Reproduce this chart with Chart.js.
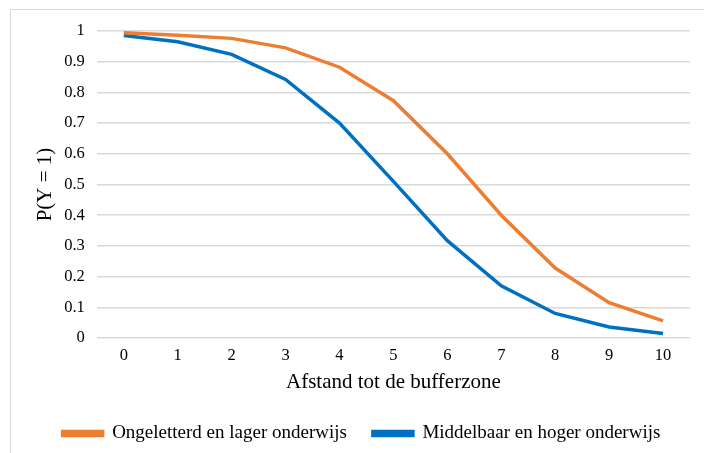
<!DOCTYPE html>
<html>
<head>
<meta charset="utf-8">
<script src="https://cdn.jsdelivr.net/npm/chart.js@4"></script>
<style>
  html, body { margin: 0; padding: 0; background: #fff; overflow: hidden; }
  #wrap { position: relative; width: 704px; height: 453px; }
  #frame { position: absolute; left: 10px; top: 9px; width: 720px; height: 480px; border: 1px solid #d9d9d9; }
  canvas { position: absolute; left: 0; top: 0; }
</style>
</head>
<body>
<div id="wrap">
  <div id="frame"></div>
  <canvas id="myChart" width="704" height="453"></canvas>
</div>
<script>
const labels = ['0', '1', '2', '3', '4', '5', '6', '7', '8', '9', '10'];

const ongeletterd = [0.994, 0.986, 0.976, 0.945, 0.882, 0.773, 0.600, 0.400, 0.228, 0.115, 0.056];
const middelbaar = [0.985, 0.965, 0.924, 0.842, 0.700, 0.510, 0.317, 0.170, 0.080, 0.036, 0.015];

const serif = 'Liberation Serif';

const data = {
    labels: labels,
    datasets: [{
        label: 'Ongeletterd en lager onderwijs',
        borderColor: '#ED7D31',
        backgroundColor: '#ED7D31',
        borderWidth: 3.5,
        pointRadius: 0,
        data: ongeletterd,
    }, {
        label: 'Middelbaar en hoger onderwijs',
        borderColor: '#0070C0',
        backgroundColor: '#0070C0',
        borderWidth: 3.5,
        pointRadius: 0,
        data: middelbaar,
    }]
};

const config = {
    type: 'line',
    data: data,
    options: {
        responsive: false,
        animation: false,
        layout: { padding: { left: 33, right: 14, top: 31, bottom: 0 } },
        scales: {
            x: {
                offset: true,
                grid: { display: false },
                border: { display: false },
                ticks: { color: '#000', font: { family: serif, size: 16.5 }, padding: 0 },
                title: { display: true, text: 'Afstand tot de bufferzone', color: '#000', font: { family: serif, size: 21 }, padding: { top: 4, bottom: 3 } }
            },
            y: {
                min: 0,
                max: 1,
                grid: { color: '#d9d9d9', lineWidth: 1.5, drawTicks: false },
                border: { display: false },
                ticks: {
                    stepSize: 0.1, color: '#000', font: { family: serif, size: 16.5 }, padding: 12,
                    callback: v => Math.round(v * 10) / 10 + ''
                },
                title: { display: true, text: 'P(Y = 1)', color: '#000', font: { family: serif, size: 21 }, padding: { top: 0, bottom: -6 } }
            }
        },
        plugins: {
            legend: {
                position: 'bottom',
                labels: { color: '#000', font: { family: serif, size: 19 }, boxWidth: 40, boxHeight: 4, padding: 26 }
            },
            tooltip: { enabled: false }
        }
    }
};

const myChart = new Chart(document.getElementById('myChart'), config);
</script>
</body>
</html>
